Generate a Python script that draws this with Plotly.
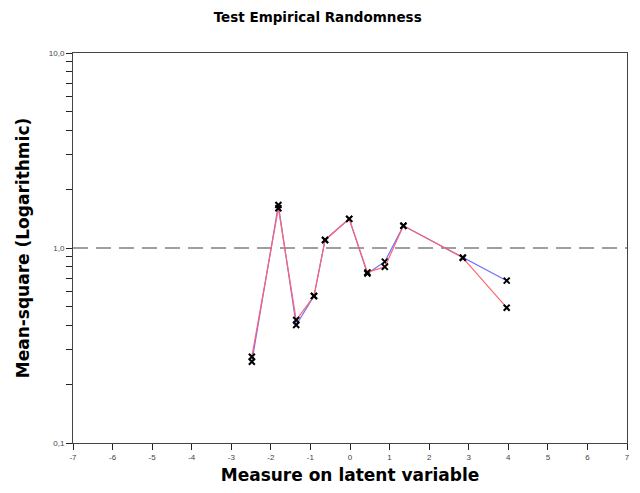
import plotly.graph_objects as go

measure = [-2.48, -1.81, -1.36, -0.91, -0.63, -0.02, 0.44, 0.88, 1.35, 2.85, 3.96]
ms_blue = [0.261, 1.66, 0.403, 0.567, 1.10, 1.41, 0.74, 0.851, 1.30, 0.892, 0.68]
ms_red = [0.277, 1.60, 0.427, 0.567, 1.10, 1.41, 0.75, 0.80, 1.30, 0.892, 0.494]

x_ticks = list(range(-7, 8))
x_ticktext = [str(v) for v in x_ticks]
y_ticks = [0.1, 0.2, 0.3, 0.4, 0.5, 0.6, 0.7, 0.8, 0.9,
           1, 2, 3, 4, 5, 6, 7, 8, 9, 10]
y_ticktext = ["0,1", "", "", "", "", "", "", "", "",
              "1,0", "", "", "", "", "", "", "", "", "10,0"]

fig = go.Figure()
mk = dict(symbol="x-thin", size=6, color="black", line=dict(width=2, color="black"))
fig.add_trace(go.Scatter(x=measure, y=ms_blue, mode="lines+markers",
                         line=dict(color="rgb(110,110,255)", width=1.2),
                         marker=mk, showlegend=False))
fig.add_trace(go.Scatter(x=measure, y=ms_red, mode="lines+markers",
                         line=dict(color="rgb(255,100,110)", width=1.2),
                         marker=mk, showlegend=False))
fig.add_shape(type="line", xref="paper", x0=0, x1=1, yref="y", y0=1, y1=1,
              line=dict(color="rgb(128,128,128)", width=1.5, dash="15px,8px"),
              layer="below")

fig.update_layout(
    width=632, height=485,
    margin=dict(l=65, r=13, t=45, b=50, autoexpand=False),
    paper_bgcolor="white", plot_bgcolor="white",
    title=dict(text="<b>Test Empirical Randomness</b>", x=0.49, y=0.981,
               xref="container", yref="container",
               xanchor="center", yanchor="middle",
               font=dict(family="DejaVu Sans", size=13.5, color="black")),
    font=dict(family="Liberation Sans, Arial", color="black"),
)
fig.update_xaxes(range=[-7, 7], tickvals=x_ticks, ticktext=x_ticktext,
                 ticks="outside", ticklen=6, tickwidth=1.2, automargin=False,
                 tickcolor="#222", showgrid=False, zeroline=False,
                 showline=True, linecolor="#444", linewidth=1, mirror=True,
                 tickfont=dict(size=8, color="#444"),
                 title=dict(text="<b>Measure on latent variable</b>",
                            font=dict(family="DejaVu Sans", size=17, color="black"),
                            standoff=8))
fig.update_yaxes(type="log", range=[-1, 1], tickmode="array",
                 tickvals=y_ticks, ticktext=y_ticktext,
                 ticks="outside", ticklen=6, tickwidth=1.2, tickcolor="#222",
                 showgrid=False, automargin=False,
                 zeroline=False, showline=True, linecolor="#444", linewidth=1,
                 mirror=True, tickfont=dict(size=8, color="#444"),
                 title=dict(text="<b>Mean-square (Logarithmic)</b>",
                            font=dict(family="DejaVu Sans", size=17, color="black"),
                            standoff=14))

fig.write_html("out.html")
